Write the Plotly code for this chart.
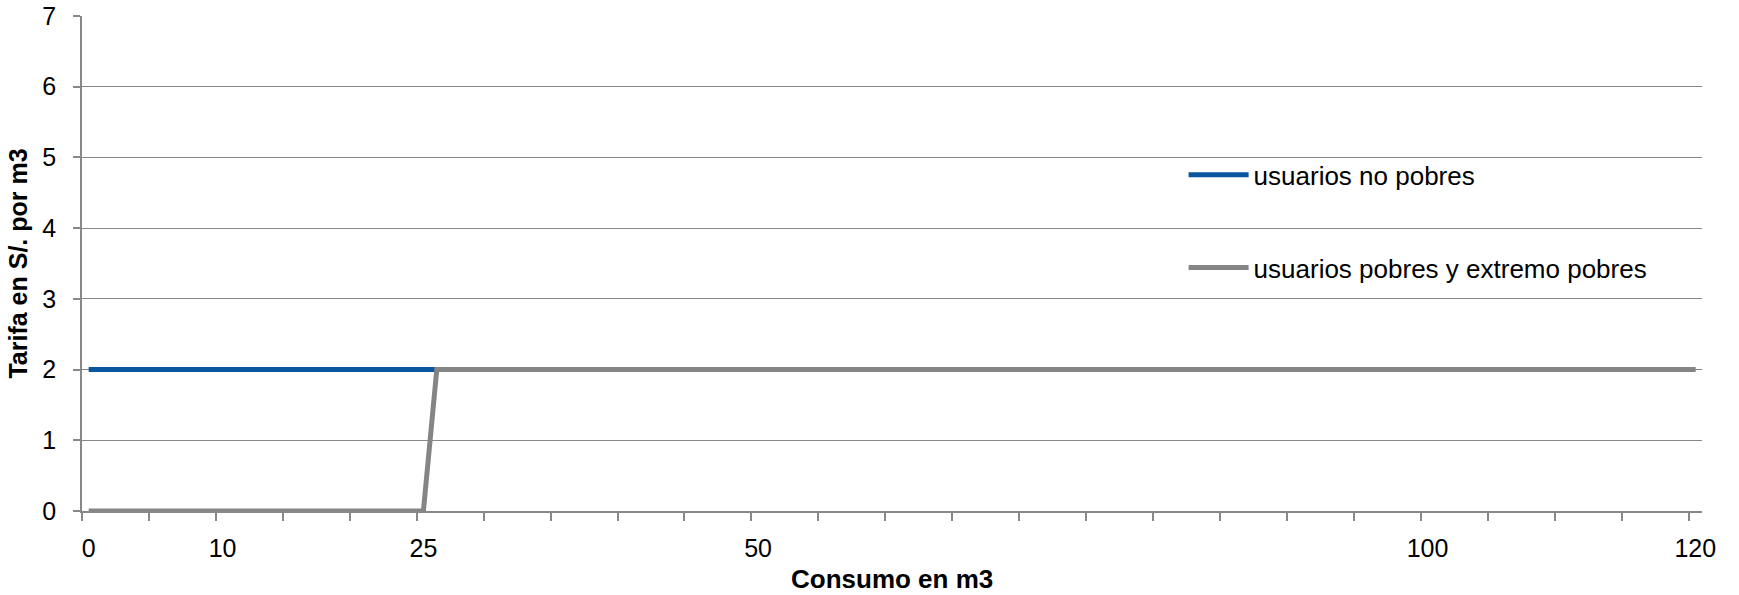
import plotly.graph_objects as go

# Tariff per m3 by consumption band
consumo_no_pobres = [0, 120]
tarifa_no_pobres = [2, 2]

consumo_pobres = [0, 25, 26, 120]
tarifa_pobres = [0, 0, 2, 2]

x_tick_vals = [0, 10, 25, 50, 100, 120]
x_tick_text = ["0", "10", "25", "50", "100", "120"]
y_tick_vals = [0, 1, 2, 3, 4, 5, 6, 7]

FONT = "Liberation Sans, Arial, sans-serif"
GRID = "#888888"

fig = go.Figure()
fig.add_trace(go.Scatter(
    x=consumo_no_pobres, y=tarifa_no_pobres, mode="lines",
    name="usuarios no pobres", legendgroup="a",
    line=dict(color="#0a55a0", width=5),
))
fig.add_trace(go.Scatter(
    x=consumo_pobres, y=tarifa_pobres, mode="lines",
    name="usuarios pobres y extremo pobres", legendgroup="b",
    line=dict(color="#858585", width=5),
))

# x-axis title placed below the tick labels
fig.add_annotation(
    text="<b>Consumo en m3</b>", x=0.5, y=-0.138,
    xref="paper", yref="paper", xanchor="center", yanchor="middle",
    showarrow=False, borderpad=0,
    font=dict(family=FONT, size=26, color="black"),
)

fig.update_layout(
    width=1739, height=595,
    margin=dict(l=82, r=37, t=16, b=84),
    paper_bgcolor="white", plot_bgcolor="white",
    font=dict(family=FONT, size=25, color="black"),
    showlegend=True,
    legend=dict(
        x=0.68, y=0.7265, xanchor="left", yanchor="top",
        bgcolor="rgba(0,0,0,0)", borderwidth=0,
        font=dict(family=FONT, size=26, color="black"),
        tracegroupgap=56, traceorder="grouped",
        itemwidth=60,
    ),
    xaxis=dict(
        range=[-0.5, 120.5], automargin=False,
        tickmode="array", tickvals=x_tick_vals, ticktext=x_tick_text,
        ticks="", showgrid=False, zeroline=False,
        showline=True, linecolor=GRID, linewidth=1.5,
        ticklabelstandoff=14,
        minor=dict(tick0=-0.5, dtick=5, ticks="outside", ticklen=8,
                   tickcolor=GRID, tickwidth=1.5, showgrid=False),
    ),
    yaxis=dict(
        range=[0, 7], automargin=False, tickmode="array", tickvals=y_tick_vals,
        ticks="outside", ticklen=7, tickcolor=GRID, tickwidth=1.5,
        showgrid=True, gridcolor=GRID, gridwidth=1.2,
        zeroline=False, showline=True, linecolor=GRID, linewidth=1.5,
        ticklabelstandoff=12,
        title=dict(text="<b>Tarifa en S/. por m3</b>", font=dict(size=25), standoff=8),
    ),
)

fig.write_html("out.html")
